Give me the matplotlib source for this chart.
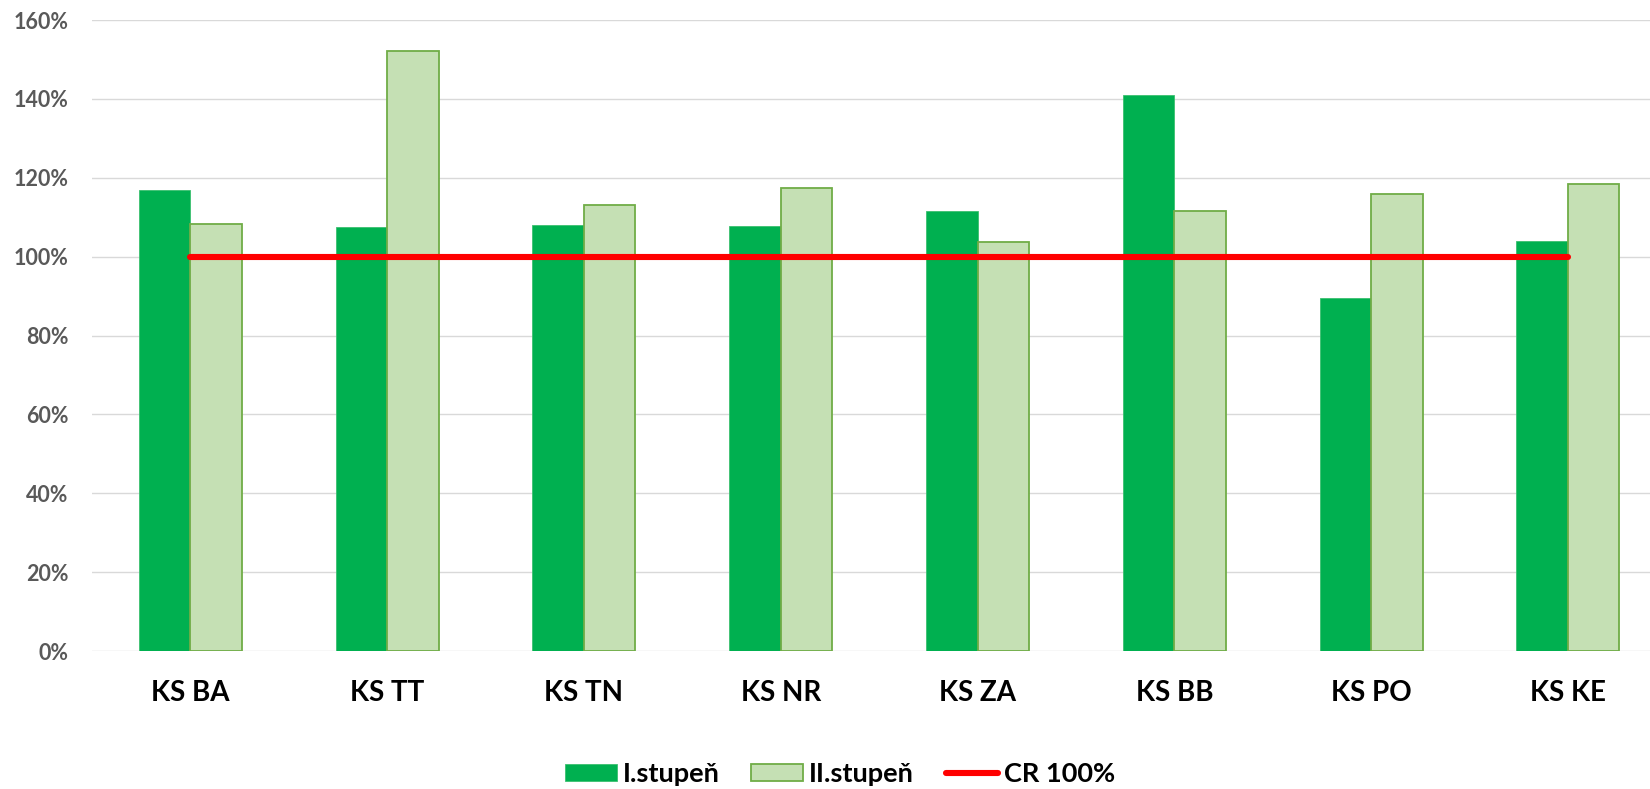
import matplotlib
matplotlib.use("Agg")
import matplotlib.pyplot as plt
from matplotlib.ticker import FuncFormatter
import numpy as np

plt.rcParams['font.family'] = ['Lato', 'DejaVu Sans']

# data (percent of 100 %)
categories = ['KS BA', 'KS TT', 'KS TN', 'KS NR', 'KS ZA', 'KS BB', 'KS PO', 'KS KE']
stupen_1 = [117.0, 107.4, 107.9, 107.7, 111.7, 141.1, 89.4, 103.9]
stupen_2 = [108.4, 152.1, 113.0, 117.5, 103.7, 111.6, 116.0, 118.3]
cr_100 = [100, 100, 100, 100, 100, 100, 100, 100]
series_labels = ['I.stupeň', 'II.stupeň', 'CR 100%']

fig = plt.figure(figsize=(16.5, 7.89), dpi=100)
# plot area runs slightly past the right edge, as in the original export
ax = fig.add_axes([0.0557, 0.1749, 0.9542, 0.7997])

x = np.arange(len(categories))
w = 0.262

b1 = ax.bar(x - w / 2, stupen_1, width=w, color='#00B050', edgecolor='#3CC070',
            linewidth=0.6, label=series_labels[0], zorder=2)
b2 = ax.bar(x + w / 2, stupen_2, width=w, color='#C5E0B4', edgecolor='#70AD47',
            linewidth=1.3, label=series_labels[1], zorder=2)
ln, = ax.plot(x, cr_100, color='#FF0000', linewidth=4.4, solid_capstyle='round',
              label=series_labels[2], zorder=3)

ax.set_xlim(-0.5, len(categories) - 0.5)
ax.set_ylim(0, 160)
ax.set_yticks(np.arange(0, 161, 20))
ax.yaxis.set_major_formatter(FuncFormatter(lambda v, p: f'{v:.0f}%'))
ax.set_xticks(x)
ax.set_xticklabels(categories)

ax.grid(axis='y', color='#D9D9D9', linewidth=1.0, zorder=0)
ax.set_axisbelow(True)
for s in ax.spines.values():
    s.set_visible(False)

ax.tick_params(axis='y', length=0, pad=17, labelsize=15.5, labelcolor='#595959')
ax.tick_params(axis='x', length=0, pad=21, labelsize=20, labelcolor='black')
for t in ax.get_yticklabels():
    t.set_fontweight('bold')
for t in ax.get_xticklabels():
    t.set_fontweight('bold')

fig.legend([b1, b2, ln], series_labels, loc='center',
           bbox_to_anchor=(0.509, 0.019), ncol=3, frameon=False,
           handlelength=1.92, handleheight=0.59, handletextpad=0.22,
           columnspacing=1.18, prop={'weight': 'bold', 'size': 19.5})

fig.savefig('out.png', dpi=100)
